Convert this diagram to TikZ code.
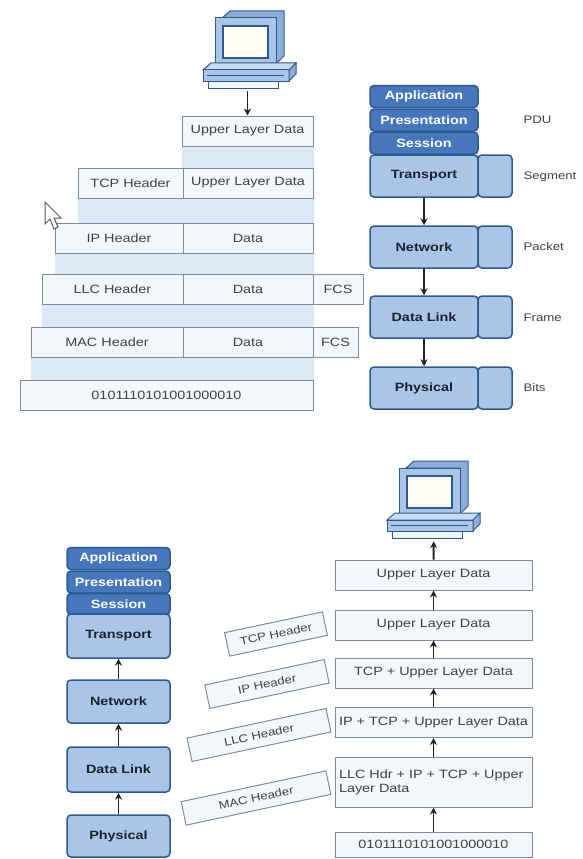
\documentclass[tikz,border=0pt]{standalone}
\usepackage{fontspec}
\setmainfont{Liberation Sans}[FakeStretch=1.2]
\usetikzlibrary{arrows.meta,backgrounds}
\definecolor{layeredge}{HTML}{2D5A8E}
\definecolor{layerfill}{HTML}{A9C5E8}
\definecolor{upperfill}{HTML}{4677BC}
\definecolor{pcside}{HTML}{8DADD9}
\definecolor{frame}{HTML}{7C8BA2}
\definecolor{paper}{HTML}{F3F7FC}
\definecolor{band}{HTML}{DCE8F6}
\definecolor{screen}{HTML}{FFFDF2}
\definecolor{ink}{HTML}{1E232B}

\tikzset{
  field/.style={draw=frame, fill=paper, line width=1pt, inner sep=0pt,
    minimum height=30pt, text=black!75, font=\fontsize{12}{14}\selectfont},
  slanted/.style={field, rotate=12, minimum height=24pt, font=\fontsize{11}{12}\selectfont},
  layer/.style={draw=layeredge, fill=layerfill, line width=1.5pt, rounded corners=4pt,
    inner sep=0pt, minimum width=108pt, minimum height=42pt, text=ink,
    font=\fontsize{12}{13}\selectfont\bfseries},
  upperlayer/.style={layer, fill=upperfill, text=white, minimum height=22pt},
  pdu/.style={anchor=west, text=black!75, font=\fontsize{11}{12}\selectfont},
  flow/.style={-{Stealth[length=7pt,width=7pt]}, line width=1.9pt, draw=ink},
  pcbox/.style={minimum width=96pt, minimum height=82pt, inner sep=0pt},
  computer/.pic={
    % monitor
    \filldraw[draw=layeredge, fill=pcside, line width=1pt]
      (-28,-32) -- (-20,-39) -- (34,-39) -- (34,6) -- (26,14) -- (26,-32) -- cycle;
    \filldraw[draw=layeredge, fill=layerfill, line width=1pt] (-35,-32) rectangle (26,14);
    \filldraw[draw=layeredge, fill=screen, line width=1.4pt] (-27,-24) rectangle (18,8);
    % base
    \filldraw[draw=layeredge, fill=layerfill!60!white, line width=1pt]
      (-47,20) -- (-39,13) -- (46,13) -- (39,20) -- cycle;
    \filldraw[draw=layeredge, fill=layerfill, line width=1pt] (-47,20) rectangle (39,31);
    \filldraw[draw=layeredge, fill=pcside, line width=1pt]
      (39,20) -- (46,13) -- (46,24) -- (39,31) -- cycle;
    \draw[layeredge, line width=0.6pt] (-43,25) -- (34,25);
    \filldraw[draw=layeredge, fill=paper, line width=1pt] (-42,31) rectangle (28,38);
  }
}

\begin{document}
\begin{tikzpicture}[x=1pt,y=-1pt]
  \useasboundingbox (0,0) rectangle (582,859);

  % encapsulation, sending side
  \node[pcbox] (pc1) at (250,50) {};
  \pic at (pc1.center) {computer};
  \node[field, minimum width=131pt] (uld) at (247.5,131) {Upper Layer Data};
  \node[field, minimum width=105pt] (tcph) at (130.5,183) {TCP Header};
  \node[field, minimum width=130pt] (tcpd) at (248,183) {Upper Layer Data};
  \node[field, minimum width=128pt] (iph) at (119,238) {IP Header};
  \node[field, minimum width=130pt] (ipd) at (248,238) {Data};
  \node[field, minimum width=141pt] (llch) at (112.5,289) {LLC Header};
  \node[field, minimum width=130pt] (llcd) at (248,289) {Data};
  \node[field, minimum width=50pt] (llcfcs) at (338,289) {FCS};
  \node[field, minimum width=152pt] (mach) at (107,342) {MAC Header};
  \node[field, minimum width=130pt] (macd) at (248,342) {Data};
  \node[field, minimum width=45pt] (macfcs) at (335.5,342) {FCS};
  \node[field, minimum width=293pt] (bits1) at (166.5,395) {0101110101001000010};
  \begin{scope}[on background layer]
    \fill[band] (uld.south west) rectangle (tcpd.north east);
    \fill[band] (tcph.south west) rectangle (ipd.north east);
    \fill[band] (iph.south west) rectangle (llcd.north east);
    \fill[band] (llch.south west) rectangle (macd.north east);
    \fill[band] (mach.south west) rectangle (bits1.north east);
  \end{scope}
  \draw[flow] (pc1.south -| uld.north) -- (uld.north);

  % pointer
  \filldraw[draw=black!65, fill=white, line width=1pt]
    (45,202) -- (45,224) -- (50,219) -- (54,229) -- (58,227) -- (54,218) -- (61,218) -- cycle;

  % layer stack with PDU names
  \node[upperlayer] (app) at (424,96.5) {Application};
  \node[upperlayer] (pres) at (424,120) {Presentation};
  \node[upperlayer] (sess) at (424,143) {Session};
  \node[layer] (tr) at (424,176) {Transport};
  \node[layer, minimum width=34pt] (trx) at (495,176) {};
  \node[layer] (nw) at (424,247) {Network};
  \node[layer, minimum width=34pt] (nwx) at (495,247) {};
  \node[layer] (dl) at (424,317) {Data Link};
  \node[layer, minimum width=34pt] (dlx) at (495,317) {};
  \node[layer] (ph) at (424,388) {Physical};
  \node[layer, minimum width=34pt] (phx) at (495,388) {};
  \draw[flow] (tr) -- (nw);
  \draw[flow] (nw) -- (dl);
  \draw[flow] (dl) -- (ph);
  \node[pdu] (pdu) at (520,120) {PDU};
  \node[pdu] (seg) at (520,177) {Segment};
  \node[pdu] (pkt) at (520,247) {Packet};
  \node[pdu] (frm) at (520,318) {Frame};
  \node[pdu] (bit) at (520,388) {Bits};

  % receiving side stack
  \node[upperlayer, minimum width=103pt] (app2) at (118.5,558.5) {Application};
  \node[upperlayer, minimum width=103pt] (pres2) at (118.5,582) {Presentation};
  \node[upperlayer, minimum width=103pt, minimum height=21pt] (sess2) at (118.5,604) {Session};
  \node[layer, minimum width=103pt, minimum height=44pt] (tr2) at (118.5,636) {Transport};
  \node[layer, minimum width=103pt, minimum height=43pt] (nw2) at (118.5,701.5) {Network};
  \node[layer, minimum width=103pt, minimum height=45pt] (dl2) at (118.5,769.5) {Data Link};
  \node[layer, minimum width=103pt] (ph2) at (118.5,836) {Physical};
  \draw[flow] (ph2) -- (dl2);
  \draw[flow] (dl2) -- (nw2);
  \draw[flow] (nw2) -- (tr2);

  % headers taken off
  \node[slanted, minimum width=100pt] (tcphdr) at (276,634) {TCP Header};
  \node[slanted, minimum width=122pt] (iphdr) at (267,684) {IP Header};
  \node[slanted, minimum width=142pt] (llchdr) at (259,735) {LLC Header};
  \node[slanted, minimum width=148pt] (machdr) at (256,798) {MAC Header};

  % decapsulation, receiving side
  \node[pcbox] (pc2) at (434,500) {};
  \pic at (pc2.center) {computer};
  \node[field, minimum width=197pt] (r1) at (433.5,575) {Upper Layer Data};
  \node[field, minimum width=197pt] (r2) at (433.5,625) {Upper Layer Data};
  \node[field, minimum width=197pt] (r3) at (433.5,673) {TCP + Upper Layer Data};
  \node[field, minimum width=197pt] (r4) at (433.5,722.5) {IP + TCP + Upper Layer Data};
  \node[field, minimum width=197pt, minimum height=50pt, text width=189pt, align=left]
    (r5) at (433.5,782) {LLC Hdr + IP + TCP + Upper\\Layer Data};
  \node[field, minimum width=197pt, minimum height=25pt] (r6) at (433.5,844.5) {0101110101001000010};
  \foreach \a/\b in {r6/r5,r5/r4,r4/r3,r3/r2,r2/r1,r1/pc2}
    \draw[flow] (\a) -- (\b);
\end{tikzpicture}
\end{document}
